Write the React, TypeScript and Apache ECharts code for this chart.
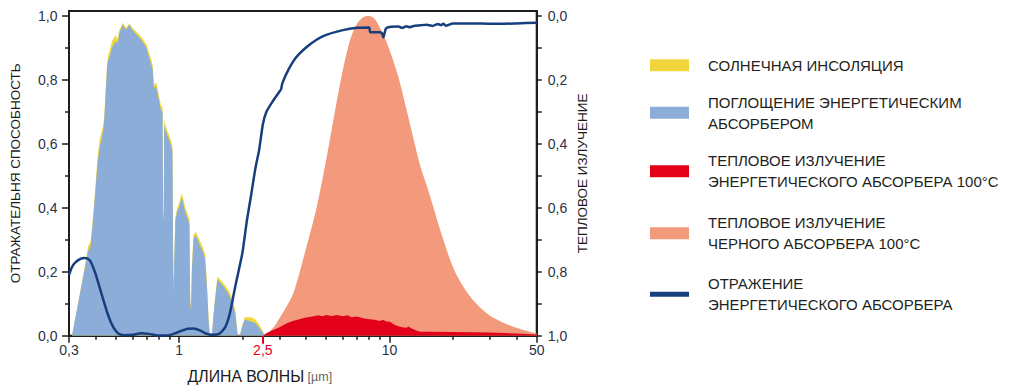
import React, { useEffect, useRef } from "react";
import * as echarts from "echarts";

// ---------- data ----------
// wavelength grid [µm] for solar insolation / absorption
const solarWavelength = [
  0.3, 0.31, 0.34, 0.37, 0.38, 0.39, 0.4, 0.41, 0.42, 0.43, 0.44, 0.45, 0.455, 0.46, 0.47, 0.48, 0.5, 0.51, 0.52,
  0.54, 0.56, 0.58, 0.6, 0.63, 0.66, 0.7, 0.72, 0.74, 0.75, 0.76, 0.77, 0.78, 0.8, 0.82, 0.835, 0.84, 0.845,
  0.85, 0.86, 0.88, 0.9, 0.92, 0.93, 0.94, 0.95, 0.96, 0.98, 1.0, 1.03, 1.05, 1.07, 1.1, 1.12, 1.13, 1.14,
  1.15, 1.17, 1.2, 1.25, 1.3, 1.33, 1.36, 1.38, 1.4, 1.43, 1.47, 1.52, 1.6, 1.7, 1.75, 1.8, 1.85, 1.9, 1.95,
  2.0, 2.05, 2.2, 2.3, 2.4, 2.5, 2.55,
];
const solarInsolation = [
  0, 0, 0.14, 0.28, 0.295, 0.37, 0.46, 0.56, 0.615, 0.64, 0.675, 0.79, 0.85, 0.875, 0.895, 0.92, 0.94, 0.925, 0.955,
  0.978, 0.962, 0.975, 0.962, 0.948, 0.935, 0.91, 0.885, 0.86, 0.845, 0.78, 0.79, 0.79, 0.755, 0.72, 0.715, 0.39, 0.38,
  0.68, 0.66, 0.64, 0.625, 0.605, 0.59, 0.14, 0.26, 0.37, 0.4, 0.415, 0.445, 0.425, 0.4, 0.38, 0.365, 0.11, 0.09,
  0.21, 0.315, 0.325, 0.3, 0.275, 0.255, 0.15, 0.06, 0, 0, 0.095, 0.185, 0.17, 0.147, 0.132, 0.112, 0.08, 0, 0.005,
  0.035, 0.058, 0.058, 0.052, 0.035, 0.015, 0,
];
const absorberAbsorption = [
  0, 0, 0.14, 0.265, 0.28, 0.36, 0.45, 0.54, 0.59, 0.62, 0.66, 0.78, 0.84, 0.86, 0.875, 0.9, 0.92, 0.912, 0.945,
  0.972, 0.955, 0.972, 0.955, 0.94, 0.925, 0.9, 0.87, 0.845, 0.83, 0.77, 0.78, 0.775, 0.74, 0.705, 0.7, 0.37, 0.36,
  0.66, 0.645, 0.625, 0.61, 0.59, 0.58, 0.13, 0.25, 0.36, 0.39, 0.4, 0.432, 0.41, 0.385, 0.365, 0.35, 0.1, 0.08,
  0.2, 0.3, 0.315, 0.285, 0.26, 0.24, 0.14, 0.05, 0, 0, 0.09, 0.175, 0.16, 0.135, 0.12, 0.1, 0.07, 0, 0.005,
  0.03, 0.05, 0.045, 0.04, 0.025, 0.01, 0,
];

// black absorber thermal emission 100 °C
const blackWavelength = [
  2.55, 2.8, 3.0, 3.2, 3.5, 4.0, 4.5, 5.0, 5.5, 6.0, 6.5, 7.0, 7.5, 7.9, 8.5, 9.0, 9.5, 10, 11, 12, 13, 14, 15,
  16, 18, 20, 22, 25, 28, 30, 35, 40, 45, 50,
];
const blackEmission = [
  0, 0.025, 0.055, 0.085, 0.135, 0.27, 0.4, 0.55, 0.7, 0.83, 0.925, 0.975, 0.995, 1.0, 0.99, 0.962, 0.93, 0.893,
  0.81, 0.71, 0.615, 0.53, 0.47, 0.41, 0.3, 0.215, 0.162, 0.11, 0.078, 0.063, 0.04, 0.025, 0.015, 0.007,
];

// energy absorber thermal emission 100 °C
const absorberWavelength = [
  2.5, 2.6, 2.8, 3.0, 3.25, 3.5, 3.8, 4.0, 4.3, 4.6, 4.8, 5.0, 5.3, 5.6, 6.0, 6.3, 6.6, 7.0, 7.5, 8.0, 8.5, 9.0,
  9.3, 9.7, 10, 10.5, 11, 11.5, 12, 12.3, 12.8, 13.5, 14, 16, 20, 25, 30, 40, 50,
];
const absorberEmission = [
  0, 0.008, 0.018, 0.027, 0.039, 0.047, 0.053, 0.057, 0.06, 0.064, 0.061, 0.065, 0.062, 0.065, 0.061, 0.064, 0.058,
  0.06, 0.055, 0.052, 0.05, 0.046, 0.05, 0.044, 0.045, 0.035, 0.03, 0.027, 0.025, 0.029, 0.022, 0.016, 0.013, 0.013,
  0.012, 0.011, 0.01, 0.007, 0.004,
];

// reflection of the energy absorber
const reflectionWavelength = [
  0.3, 0.31, 0.32, 0.34, 0.355, 0.37, 0.38, 0.4, 0.42, 0.44, 0.46, 0.48, 0.5, 0.52, 0.55, 0.6, 0.66, 0.72, 0.8,
  0.9, 0.96, 1.03, 1.1, 1.17, 1.25, 1.33, 1.45, 1.55, 1.65, 1.7, 1.75, 1.8, 1.85, 1.9, 2.0, 2.1, 2.2, 2.3, 2.4,
  2.5, 2.6, 2.8, 3.0, 3.05, 3.1, 3.3, 3.6, 4.0, 4.5, 5.0, 6.0, 7.0, 8.0, 8.1, 9.0, 9.2, 9.35, 9.6, 10, 11, 11.5,
  12, 12.5, 13, 14, 15, 16, 17, 17.5, 18, 18.5, 20, 25, 30, 35, 40, 50,
];
const reflection = [
  0.19, 0.215, 0.228, 0.24, 0.243, 0.24, 0.232, 0.196, 0.15, 0.105, 0.065, 0.035, 0.016, 0.005, 0.002, 0.003,
  0.008, 0.006, 0.001, 0.002, 0.008, 0.016, 0.022, 0.023, 0.018, 0.008, 0.003, 0.006, 0.025, 0.045, 0.075, 0.115,
  0.155, 0.19, 0.26, 0.36, 0.44, 0.52, 0.58, 0.66, 0.7, 0.735, 0.763, 0.77, 0.79, 0.83, 0.87, 0.9, 0.925, 0.94,
  0.955, 0.962, 0.963, 0.948, 0.948, 0.945, 0.932, 0.96, 0.965, 0.966, 0.962, 0.967, 0.964, 0.968, 0.97, 0.972,
  0.968, 0.974, 0.97, 0.975, 0.969, 0.976, 0.976, 0.975, 0.975, 0.976, 0.978,
];

// ticks
const xLabelTicks = [0.3001, 1, 2.5, 10, 49.99];
const xMajorTicks = [0.3001, 1, 10, 49.99];
const xMinorTicks = [0.4, 0.5, 0.6, 0.7, 0.8, 0.9, 2, 3, 4, 5, 6, 7, 8, 9, 20, 30, 40];
const xHighlightTick = [2.5];
const yMajorTicks = [0, 0.2, 0.4, 0.6, 0.8, 1.0];
const yMinorTicks = [0.1, 0.3, 0.5, 0.7, 0.9];
const yAllTicks = [0, 0.1, 0.2, 0.3, 0.4, 0.5, 0.6, 0.7, 0.8, 0.9, 1.0];

// legend texts (lines)
const legendLines = [
  ["СОЛНЕЧНАЯ ИНСОЛЯЦИЯ"],
  ["ПОГЛОЩЕНИЕ ЭНЕРГЕТИЧЕСКИМ", "АБСОРБЕРОМ"],
  ["ТЕПЛОВОЕ ИЗЛУЧЕНИЕ", "ЭНЕРГЕТИЧЕСКОГО АБСОРБЕРА 100°C"],
  ["ТЕПЛОВОЕ ИЗЛУЧЕНИЕ", "ЧЕРНОГО АБСОРБЕРА 100°C"],
  ["ОТРАЖЕНИЕ", "ЭНЕРГЕТИЧЕСКОГО АБСОРБЕРА"],
];
const seriesNames = legendLines.map((l) => l.join(" "));

// ---------- style ----------
const FONT = '"Liberation Sans", Arial, Helvetica, sans-serif';
const AXIS = "#1e1e1e";
const LABEL = "#2b3245";
const YELLOW = "#f0d53c";
const BLUE = "#8badd8";
const RED = "#e3001b";
const SALMON = "#f29a7b";
const NAVY = "#173f7d";

const pairs = (xs: number[], ys: number[]) => xs.map((x, i) => [x, ys[i]]);
const fmtComma = (v: number) => (Math.round(v * 10) / 10).toFixed(1).replace(".", ",");
const fmtX = (v: number) => String(Math.round(v * 10) / 10).replace(".", ",");

function buildOption(): any {
  const Y_MAX = 1.0147;
  const baseX = {
    type: "log",
    logBase: 10,
    min: 0.3,
    max: 50,
    position: "bottom",
    splitLine: { show: false },
    minorTick: { show: false },
  };

  const legendLayout = [
    { top: 54.8, h: 12, pad: 0 },
    { top: 88.4, h: 12, pad: 6.6 },
    { top: 146.6, h: 12, pad: 7.4 },
    { top: 211.6, h: 12, pad: 1.4 },
    { top: 273.2, h: 5, pad: 0 },
  ];

  return {
    animation: false,
    tooltip: { show: false },
    grid: {
      left: 69,
      right: 487.3,
      top: 11,
      bottom: 56.2,
      show: true,
      borderColor: AXIS,
      borderWidth: 2,
      backgroundColor: "transparent",
    },
    legend: legendLayout.map((l, i) => ({
      data: [seriesNames[i]],
      left: 650,
      top: l.top,
      padding: 0,
      orient: "vertical",
      icon: "rect",
      itemWidth: 39,
      itemHeight: l.h,
      selectedMode: false,
      formatter: (name: string) => legendLines[seriesNames.indexOf(name)].join("\n"),
      textStyle: {
        fontFamily: FONT,
        fontSize: 15,
        color: "#231f20",
        lineHeight: 21,
        padding: [l.pad, 0, 0, 14],
      },
    })),
    xAxis: [
      {
        ...baseX,
        axisLine: { show: true, onZero: false, lineStyle: { color: AXIS, width: 2 } },
        axisTick: { show: true, length: 4, customValues: xMinorTicks, lineStyle: { color: AXIS, width: 1.5 } },
        axisLabel: {
          show: true,
          customValues: xLabelTicks,
          formatter: (v: number) => fmtX(v),
          color: (v: any) => (Math.abs(Number(v) - 2.5) < 0.01 ? RED : LABEL),
          fontFamily: FONT,
          fontSize: 14,
          margin: 7,
        },
        name: "{a|ДЛИНА ВОЛНЫ} {b|[µm]}",
        nameLocation: "middle",
        nameGap: 32,
        nameTextStyle: {
          padding: [0, 86, 0, 0],
          rich: {
            a: { fontFamily: FONT, fontSize: 15.8, color: "#1a1a1a", lineHeight: 18 },
            b: { fontFamily: FONT, fontSize: 12.5, color: "#666", lineHeight: 18 },
          },
        },
      },
      {
        ...baseX,
        axisLine: { show: false },
        axisTick: { show: true, length: 7, customValues: xMajorTicks, lineStyle: { color: AXIS, width: 1.5 } },
        axisLabel: { show: false },
      },
      {
        ...baseX,
        axisLine: { show: false },
        axisTick: { show: true, length: 8, customValues: xHighlightTick, lineStyle: { color: RED, width: 2 } },
        axisLabel: { show: false },
      },
    ],
    yAxis: [
      {
        type: "value",
        position: "left",
        min: 0,
        max: Y_MAX,
        splitLine: { show: false },
        axisLine: { show: true, onZero: false, lineStyle: { color: AXIS, width: 2 } },
        axisTick: { show: true, length: 7, customValues: yMajorTicks, lineStyle: { color: AXIS, width: 1.5 } },
        axisLabel: {
          show: true,
          customValues: yMajorTicks,
          formatter: (v: number) => fmtComma(v),
          color: LABEL,
          fontFamily: FONT,
          fontSize: 14,
          margin: 11.5,
        },
        name: "ОТРАЖАТЕЛЬНЯ СПОСОБНОСТЬ",
        nameLocation: "middle",
        nameRotate: 90,
        nameGap: 47,
        nameTextStyle: { fontFamily: FONT, fontSize: 13.5, color: "#1a1a1a" },
      },
      {
        type: "value",
        position: "left",
        min: 0,
        max: Y_MAX,
        splitLine: { show: false },
        axisLine: { show: false },
        axisTick: { show: true, length: 4, customValues: yMinorTicks, lineStyle: { color: AXIS, width: 1.5 } },
        axisLabel: { show: false },
      },
      {
        type: "value",
        position: "right",
        inverse: true,
        min: -(Y_MAX - 1),
        max: 1,
        splitLine: { show: false },
        axisLine: { show: true, onZero: false, lineStyle: { color: AXIS, width: 2 } },
        axisTick: { show: true, length: 5, customValues: yAllTicks, lineStyle: { color: AXIS, width: 1.5 } },
        axisLabel: {
          show: true,
          customValues: yMajorTicks,
          formatter: (v: number) => fmtComma(v),
          color: LABEL,
          fontFamily: FONT,
          fontSize: 14,
          margin: 11,
        },
        name: "ТЕПЛОВОЕ ИЗЛУЧЕНИЕ",
        nameLocation: "middle",
        nameRotate: 90,
        nameGap: 39,
        nameTextStyle: { fontFamily: FONT, fontSize: 13.5, color: "#1a1a1a" },
      },
    ],
    series: [
      {
        name: seriesNames[0],
        type: "line",
        color: YELLOW,
        data: pairs(solarWavelength, solarInsolation),
        symbol: "none",
        showSymbol: false,
        lineStyle: { width: 0, opacity: 0 },
        areaStyle: { color: YELLOW, opacity: 1 },
        z: 1,
      },
      {
        name: seriesNames[1],
        type: "line",
        color: BLUE,
        data: pairs(solarWavelength, absorberAbsorption),
        symbol: "none",
        showSymbol: false,
        lineStyle: { width: 0, opacity: 0 },
        areaStyle: { color: BLUE, opacity: 1 },
        z: 2,
      },
      {
        name: seriesNames[3],
        type: "line",
        color: SALMON,
        data: pairs(blackWavelength, blackEmission),
        symbol: "none",
        showSymbol: false,
        smooth: 0.3,
        lineStyle: { width: 0, opacity: 0 },
        areaStyle: { color: SALMON, opacity: 1 },
        z: 3,
      },
      {
        name: seriesNames[2],
        type: "line",
        color: RED,
        data: pairs(absorberWavelength, absorberEmission),
        symbol: "none",
        showSymbol: false,
        lineStyle: { width: 0, opacity: 0 },
        areaStyle: { color: RED, opacity: 1 },
        z: 4,
      },
      {
        name: seriesNames[4],
        type: "line",
        color: NAVY,
        data: pairs(reflectionWavelength, reflection),
        symbol: "none",
        showSymbol: false,
        smooth: 0.2,
        lineStyle: { width: 2.5, color: NAVY },
        z: 5,
      },
    ],
  };
}

export default function App() {
  const ref = useRef<HTMLDivElement>(null);
  useEffect(() => {
    document.body.style.margin = "0";
    if (!ref.current) return;
    const chart = echarts.init(ref.current, undefined, { renderer: "svg" });
    chart.setOption(buildOption());
    return () => chart.dispose();
  }, []);
  return <div ref={ref} style={{ width: 1024, height: 392, background: "#fff" }} />;
}
